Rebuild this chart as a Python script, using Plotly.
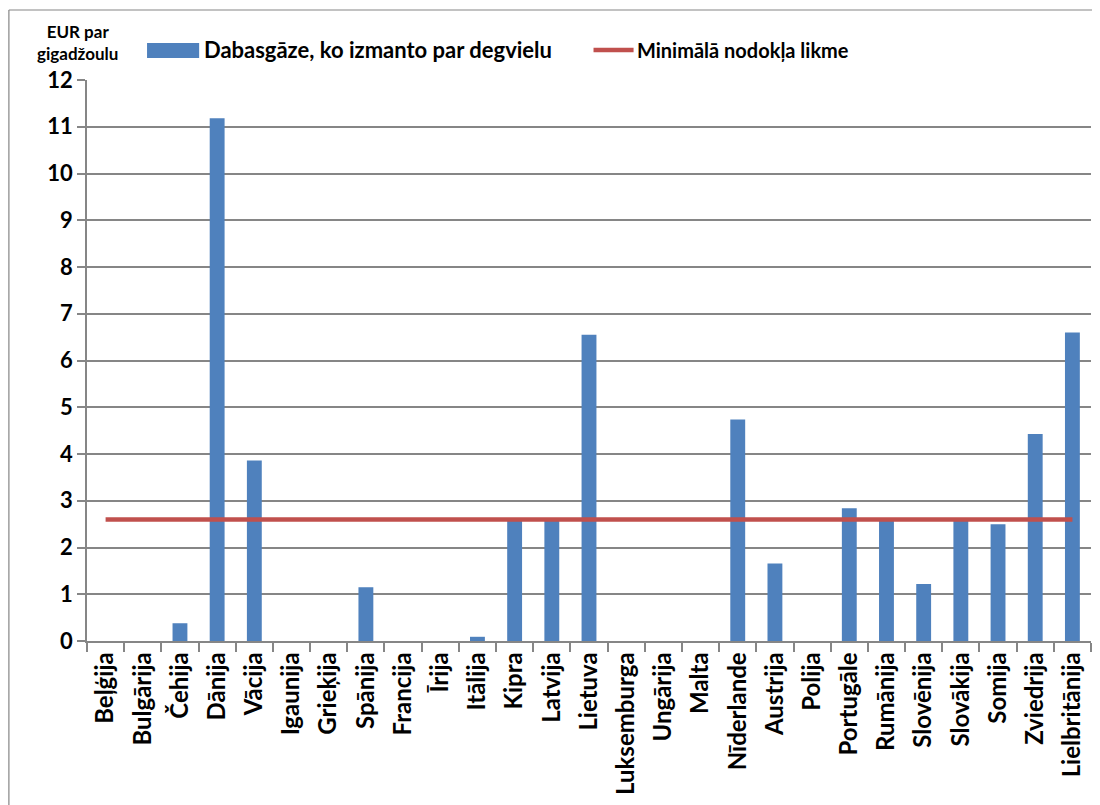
import plotly.graph_objects as go

countries = ['Beļģija', 'Bulgārija', 'Čehija', 'Dānija', 'Vācija', 'Igaunija', 'Grieķija',
             'Spānija', 'Francija', 'Īrija', 'Itālija', 'Kipra', 'Latvija', 'Lietuva',
             'Luksemburga', 'Ungārija', 'Malta', 'Nīderlande', 'Austrija', 'Polija',
             'Portugāle', 'Rumānija', 'Slovēnija', 'Slovākija', 'Somija', 'Zviedrija',
             'Lielbritānija']
gas_fuel = [0, 0, 0.38, 11.18, 3.86, 0, 0, 1.15, 0, 0, 0.09, 2.6, 2.6, 6.55,
            0, 0, 0, 4.74, 1.66, 0, 2.84, 2.6, 1.22, 2.6, 2.5, 4.43, 6.6]
min_rate = [2.6] * len(countries)

bar_name = 'Dabasgāze, ko izmanto par degvielu'
line_name = 'Minimālā nodokļa likme'

font = 'Lato'
grid = '#868686'
blue = '#4F81BD'
red = '#C0504D'

fig = go.Figure()
fig.add_trace(go.Bar(x=countries, y=gas_fuel, name=bar_name, marker_color=blue,
                     marker_line_width=0, showlegend=False))
fig.add_trace(go.Scatter(x=countries, y=min_rate, name=line_name, mode='lines',
                         line=dict(color=red, width=4.5), showlegend=False))

fig.update_xaxes(
    type='category',
    showline=True, linecolor=grid, linewidth=1.5,
    ticks='outside', tickson='boundaries', ticklen=9, tickcolor=grid, tickwidth=1.5,
    tickangle=-90,
    tickfont=dict(family=font, size=24, color='black', weight='bold'),
    showgrid=False,
)
fig.update_yaxes(
    range=[0, 12], dtick=1,
    showline=True, linecolor=grid, linewidth=1.5,
    ticks='outside', ticklen=8, tickcolor=grid, tickwidth=1.5,
    showgrid=True, gridcolor=grid, gridwidth=1.5,
    zeroline=False,
    tickfont=dict(family=font, size=22, color='black', weight='bold'),
)

# outer chart border (left + top)
fig.add_shape(type='line', xref='paper', yref='paper', x0=-0.0778, x1=-0.0778,
              y0=-0.4, y1=1.1248, line=dict(color=grid, width=1.2))
fig.add_shape(type='line', xref='paper', yref='paper', x0=-0.0778, x1=1.02,
              y0=1.1248, y1=1.1248, line=dict(color=grid, width=1.2))

# legend drawn by hand
fig.add_shape(type='rect', xref='paper', yref='paper', x0=0.0598, x1=0.1117,
              y0=1.0392, y1=1.0660, fillcolor=blue, line=dict(width=0))
fig.add_annotation(xref='paper', yref='paper', x=0.1147, y=1.0535, text=bar_name,
                   showarrow=False, xanchor='left', yanchor='middle',
                   font=dict(family=font, size=22, color='black', weight='bold'))
fig.add_shape(type='line', xref='paper', yref='paper', x0=0.5045, x1=0.5444,
              y0=1.0535, y1=1.0535, line=dict(color=red, width=4.5))
fig.add_annotation(xref='paper', yref='paper', x=0.5454, y=1.0535, text=line_name,
                   showarrow=False, xanchor='left', yanchor='middle',
                   font=dict(family=font, size=20, color='black', weight='bold'))

# y axis title
fig.add_annotation(xref='paper', yref='paper', x=-0.009, y=1.067,
                   text='EUR par<br>gigadžoulu', showarrow=False,
                   xanchor='center', yanchor='middle', align='center',
                   font=dict(family=font, size=17, color='black', weight='bold'))

fig.update_layout(
    width=1092, height=797,
    margin=dict(l=79, r=9, t=72, b=164),
    plot_bgcolor='white', paper_bgcolor='white',
    bargap=0.6,
)

fig.write_html('out.html')
